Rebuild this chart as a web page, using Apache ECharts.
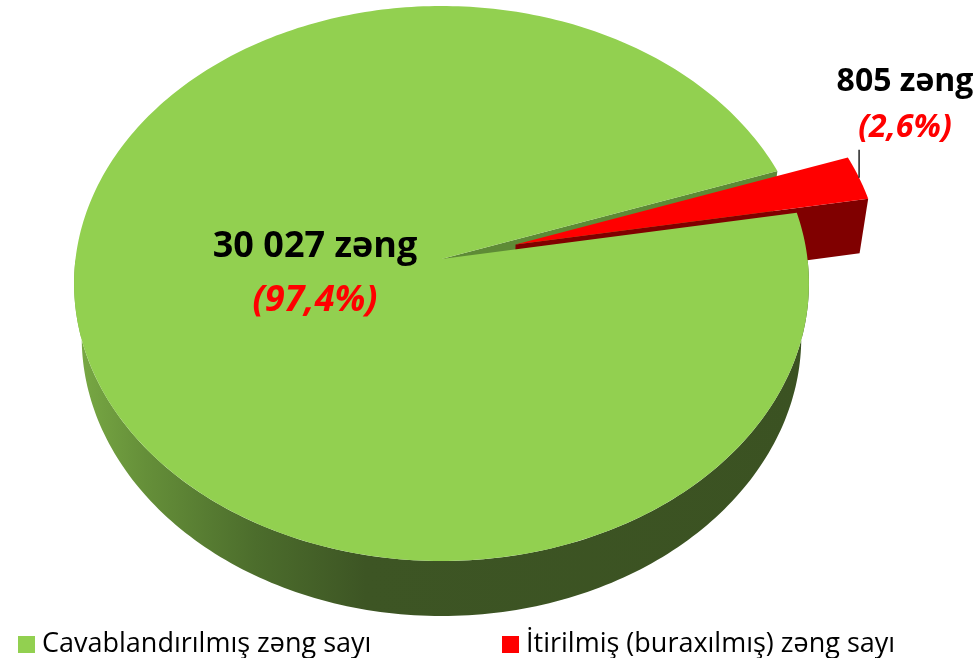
<!DOCTYPE html>
<html>
<head>
<meta charset="utf-8">
<script src="https://cdn.jsdelivr.net/npm/echarts@6/dist/echarts.min.js"></script>
<style>
  html, body { margin: 0; padding: 0; background: #fff; }
  #chart { width: 979px; height: 658px; }
</style>
</head>
<body>
<div id="chart"></div>
<script>
// data
const names = ["Cavablandırılmış zəng sayı", "İtirilmiş (buraxılmış) zəng sayı"];
const values = [30027, 805];
const colors = ["#92D050", "#FF0000"];
const unit = "zəng";

// 3d look: a tilted disc seen in perspective
const cam = { cx: 441.5, k: 366, a: 252.47, b: 259, c: -0.0883, vx: 441, vy: 2900, h: 55 };
const startAngle = 19.2;
const explode = [0, 0.21];
const wallColor = [
  new echarts.graphic.LinearGradient(72, 0, 807, 0, [
    { offset: 0, color: "#7AAB45" },
    { offset: 0.1, color: "#658F39" },
    { offset: 0.25, color: "#4C6D2C" },
    { offset: 0.4, color: "#3D5524" },
    { offset: 1, color: "#3B5222" }
  ], true),
  "#800000"
];
const sideColor = ["#5E8B36", "#800000"];
const labelPos = [
  { x: 315, y1: 247, y2: 301, size: 36 },
  { x: 905, y1: 82, y2: 128, size: 32 }
];

const total = values.reduce((s, v) => s + v, 0);
const angles = [];
let acc = startAngle;
values.forEach((v) => {
  const span = (v / total) * 360;
  angles.push([acc, acc + span]);
  acc += span;
});

function project(u, v) {
  const d = 1 + cam.c * v;
  return [cam.cx + (cam.k * u) / d, (cam.a * v + cam.b) / d];
}
function drop(p) {
  const dx = cam.vx - p[0], dy = cam.vy - p[1];
  const L = Math.hypot(dx, dy);
  return [p[0] + (cam.h * dx) / L, p[1] + (cam.h * dy) / L];
}
function point(i, r, deg) {
  const t = (deg * Math.PI) / 180;
  const m = (((angles[i][0] + angles[i][1]) / 2) * Math.PI) / 180;
  const u = r * Math.cos(t) + explode[i] * Math.cos(m);
  const v = -r * Math.sin(t) - explode[i] * Math.sin(m);
  return project(u, v);
}
function rim(i, from, to) {
  const pts = [];
  const n = Math.max(2, Math.ceil(to - from));
  for (let s = 0; s <= n; s++) pts.push(point(i, 1, from + ((to - from) * s) / n));
  return pts;
}
function fmt(v) {
  return String(v).replace(/\B(?=(\d{3})+(?!\d))/g, " ");
}

function renderSlice(i) {
  return function () {
    const [a0, a1] = angles[i];
    const out = explode[i] > 0;
    const zw = out ? 2 : 1, zt = out ? 4 : 3;
    const children = [];
    // outer wall, near half only
    for (let k = -1; k <= 1; k++) {
      const lo = Math.max(a0, 180 + 360 * k), hi = Math.min(a1, 360 + 360 * k);
      if (hi > lo) {
        const top = rim(i, lo, hi);
        const bottom = top.map(drop).reverse();
        children.push({
          type: "polygon", z2: zw,
          shape: { points: top.concat(bottom) },
          style: { fill: wallColor[i] }
        });
      }
    }
    // radial walls facing the viewer
    const apex = point(i, 0, 0);
    [[a0, a0 - 90], [a1, a1 + 90]].forEach(([t, nrm]) => {
      if (Math.sin((nrm * Math.PI) / 180) < 0) {
        const p = point(i, 1, t);
        children.push({
          type: "polygon", z2: zw,
          shape: { points: [apex, p, drop(p), drop(apex)] },
          style: { fill: sideColor[i] }
        });
      }
    });
    // top face
    children.push({
      type: "polygon", z2: zt,
      shape: { points: [apex].concat(rim(i, a0, a1)) },
      style: { fill: colors[i] }
    });
    // labels
    const lp = labelPos[i];
    const pct = ((values[i] / total) * 100).toFixed(1).replace(".", ",");
    children.push({
      type: "text", z2: 10, x: lp.x, y: lp.y1,
      style: {
        text: fmt(values[i]) + " " + unit, fill: "#000",
        font: "bold " + lp.size + "px 'Open Sans'", align: "center", verticalAlign: "middle"
      }
    });
    children.push({
      type: "text", z2: 10, x: lp.x, y: lp.y2,
      style: {
        text: "(" + pct + "%)", fill: "#FF0000",
        font: "italic bold " + lp.size + "px 'Open Sans'", align: "center", verticalAlign: "middle"
      }
    });
    if (out) {
      const p = point(i, 1, (a0 + a1) / 2);
      children.push({
        type: "line", z2: 10,
        shape: { x1: p[0], y1: p[1], x2: p[0], y2: p[1] - 28 },
        style: { stroke: "#000", lineWidth: 1.3 }
      });
    }
    return { type: "group", children };
  };
}

const chart = echarts.init(document.getElementById("chart"));
const legendText = { fontFamily: "Open Sans", fontSize: 27, color: "#000", padding: [0, 0, 0, 2] };
chart.setOption({
  animation: false,
  color: colors,
  legend: [
    { data: [names[0]], left: 13, top: 626, icon: "rect", itemWidth: 17, itemHeight: 17, textStyle: legendText },
    { data: [names[1]], left: 497, top: 626, icon: "rect", itemWidth: 17, itemHeight: 17, textStyle: legendText }
  ],
  series: values.map((v, i) => ({
    type: "custom",
    name: names[i],
    coordinateSystem: "none",
    silent: true,
    itemStyle: { color: colors[i] },
    data: [v],
    renderItem: renderSlice(i)
  }))
});
</script>
</body>
</html>
